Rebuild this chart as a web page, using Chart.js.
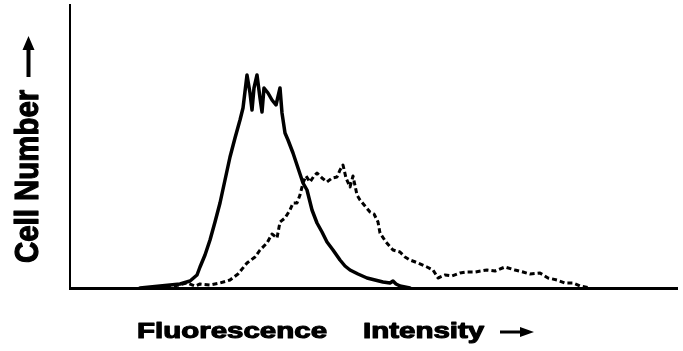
<!DOCTYPE html>
<html>
<head>
<meta charset="utf-8">
<script src="https://cdn.jsdelivr.net/npm/chart.js@4/dist/chart.umd.min.js"></script>
<style>
  html, body { margin: 0; padding: 0; background: #fff; }
  canvas { display: block; }
</style>
</head>
<body>
<canvas id="grafico" width="683" height="351"></canvas>
<script>
// fluorescence channel (arbitrary units) and cell counts
var canalSolido = [70, 80, 90, 100, 110, 120, 127, 130, 135, 140, 145, 150, 155, 160, 165, 170, 173, 177, 180, 182, 184, 187, 190, 192, 194, 198, 202, 206, 210, 212, 215, 218, 223, 228, 233, 237, 242, 247, 252, 257, 263, 270, 275, 280, 288, 297, 305, 313, 320, 323, 326, 330, 340]
var contagemSolido = [0, 1, 2, 3, 4, 7, 13, 21, 33, 48, 66, 85, 108, 131, 150, 168, 180, 213, 195, 178, 200, 213, 190, 176, 200, 195, 188, 183, 200, 175, 155, 148, 135, 120, 105, 98, 78, 65, 56, 46, 38, 28, 22, 18, 14, 10, 8, 6, 5, 7, 4, 2, 0]

var canalPontilhado = [80, 100, 117, 125, 130, 140, 150, 160, 168, 177, 185, 190, 197, 202, 207, 210, 215, 220, 223, 227, 230, 233, 236, 240, 244, 247, 252, 257, 262, 267, 270, 273, 276, 280, 283, 287, 290, 295, 300, 304, 308, 310, 316, 323, 330, 335, 340, 348, 357, 363, 368, 375, 382, 390, 397, 405, 417, 425, 435, 445, 453, 460, 470, 478, 487, 495, 503, 510, 520]
var contagemPontilhado = [0, 1, 5, 2, 4, 3, 5, 8, 14, 25, 31, 38, 45, 54, 50, 66, 70, 78, 85, 85, 93, 105, 112, 106, 112, 115, 110, 106, 110, 111, 118, 123, 110, 101, 112, 93, 88, 82, 76, 74, 66, 55, 46, 38, 36, 31, 28, 25, 21, 18, 10, 13, 12, 15, 16, 16, 18, 17, 21, 18, 16, 14, 15, 10, 8, 5, 5, 2, 0]

var canalMax = 607
var contagemMax = 283

function montarPontos(xs, ys){
    var pontos = []
    xs.forEach(function (x, i){
        pontos.push({x: x, y: ys[i]})
    })
    return pontos
}

function escreverGrosso(ctx, texto){
    ctx.fillText(texto, 0, 0)
    ctx.strokeText(texto, 0, 0)
}

// titles of the axes, drawn a bit stretched like the scanned figure
const titulosEixos = {
    id: 'titulosEixos',
    afterDraw(chart){
        var ctx = chart.ctx
        ctx.save()
        ctx.fillStyle = '#000'
        ctx.strokeStyle = '#000'
        ctx.lineWidth = 1.1
        ctx.lineJoin = 'round'
        ctx.textBaseline = 'alphabetic'
        ctx.textAlign = 'left'

        // y title
        ctx.save()
        ctx.translate(38, 263)
        ctx.rotate(-Math.PI / 2)
        ctx.scale(0.98, 1.12)
        ctx.font = 'bold 30px "Liberation Sans", Arial, sans-serif'
        escreverGrosso(ctx, 'Cell Number')
        ctx.restore()

        // y arrow
        ctx.beginPath()
        ctx.rect(26.5, 48, 4, 29)
        ctx.moveTo(22.5, 50)
        ctx.lineTo(28.5, 36)
        ctx.lineTo(34.5, 50)
        ctx.closePath()
        ctx.fill()

        // x title
        ctx.save()
        ctx.translate(137, 338)
        ctx.scale(1.34, 1)
        ctx.font = 'bold 22px "Liberation Sans", Arial, sans-serif'
        escreverGrosso(ctx, 'Fluorescence')
        ctx.restore()

        ctx.save()
        ctx.translate(363, 338)
        ctx.scale(1.34, 1)
        ctx.font = 'bold 22px "Liberation Sans", Arial, sans-serif'
        escreverGrosso(ctx, 'Intensity')
        ctx.restore()

        // x arrow
        ctx.beginPath()
        ctx.rect(500, 330.5, 22, 3)
        ctx.moveTo(520, 327)
        ctx.lineTo(534, 332)
        ctx.lineTo(520, 337)
        ctx.closePath()
        ctx.fill()

        ctx.restore()
    }
}

const config = {
    type: 'line',
    data: {
        datasets: [{
            label: 'Controle',
            data: montarPontos(canalSolido, contagemSolido),
            borderColor: '#000',
            borderWidth: 3.5,
            borderJoinStyle: 'round',
            borderCapStyle: 'round',
            pointRadius: 0,
            tension: 0,
            clip: false
        }, {
            label: 'Marcado',
            data: montarPontos(canalPontilhado, contagemPontilhado),
            borderColor: '#000',
            borderWidth: 3,
            borderDash: [5, 3],
            borderJoinStyle: 'round',
            pointRadius: 0,
            tension: 0,
            clip: false
        }]
    },
    options: {
        responsive: false,
        animation: false,
        layout: {
            padding: {left: 70, top: 5, right: 6, bottom: 63}
        },
        plugins: {
            legend: {display: false},
            tooltip: {enabled: false}
        },
        scales: {
            x: {
                type: 'linear',
                min: 0,
                max: canalMax,
                grid: {display: false, drawTicks: false},
                ticks: {display: false},
                border: {display: true, color: '#000', width: 3},
                afterFit: function (scale){ scale.height = 0 }
            },
            y: {
                type: 'linear',
                min: 0,
                max: contagemMax,
                grid: {display: false, drawTicks: false},
                ticks: {display: false},
                border: {display: true, color: '#000', width: 2},
                afterFit: function (scale){ scale.width = 0 }
            }
        }
    },
    plugins: [titulosEixos]
}

var myChart = new Chart(document.getElementById('grafico'), config)
</script>
</body>
</html>
